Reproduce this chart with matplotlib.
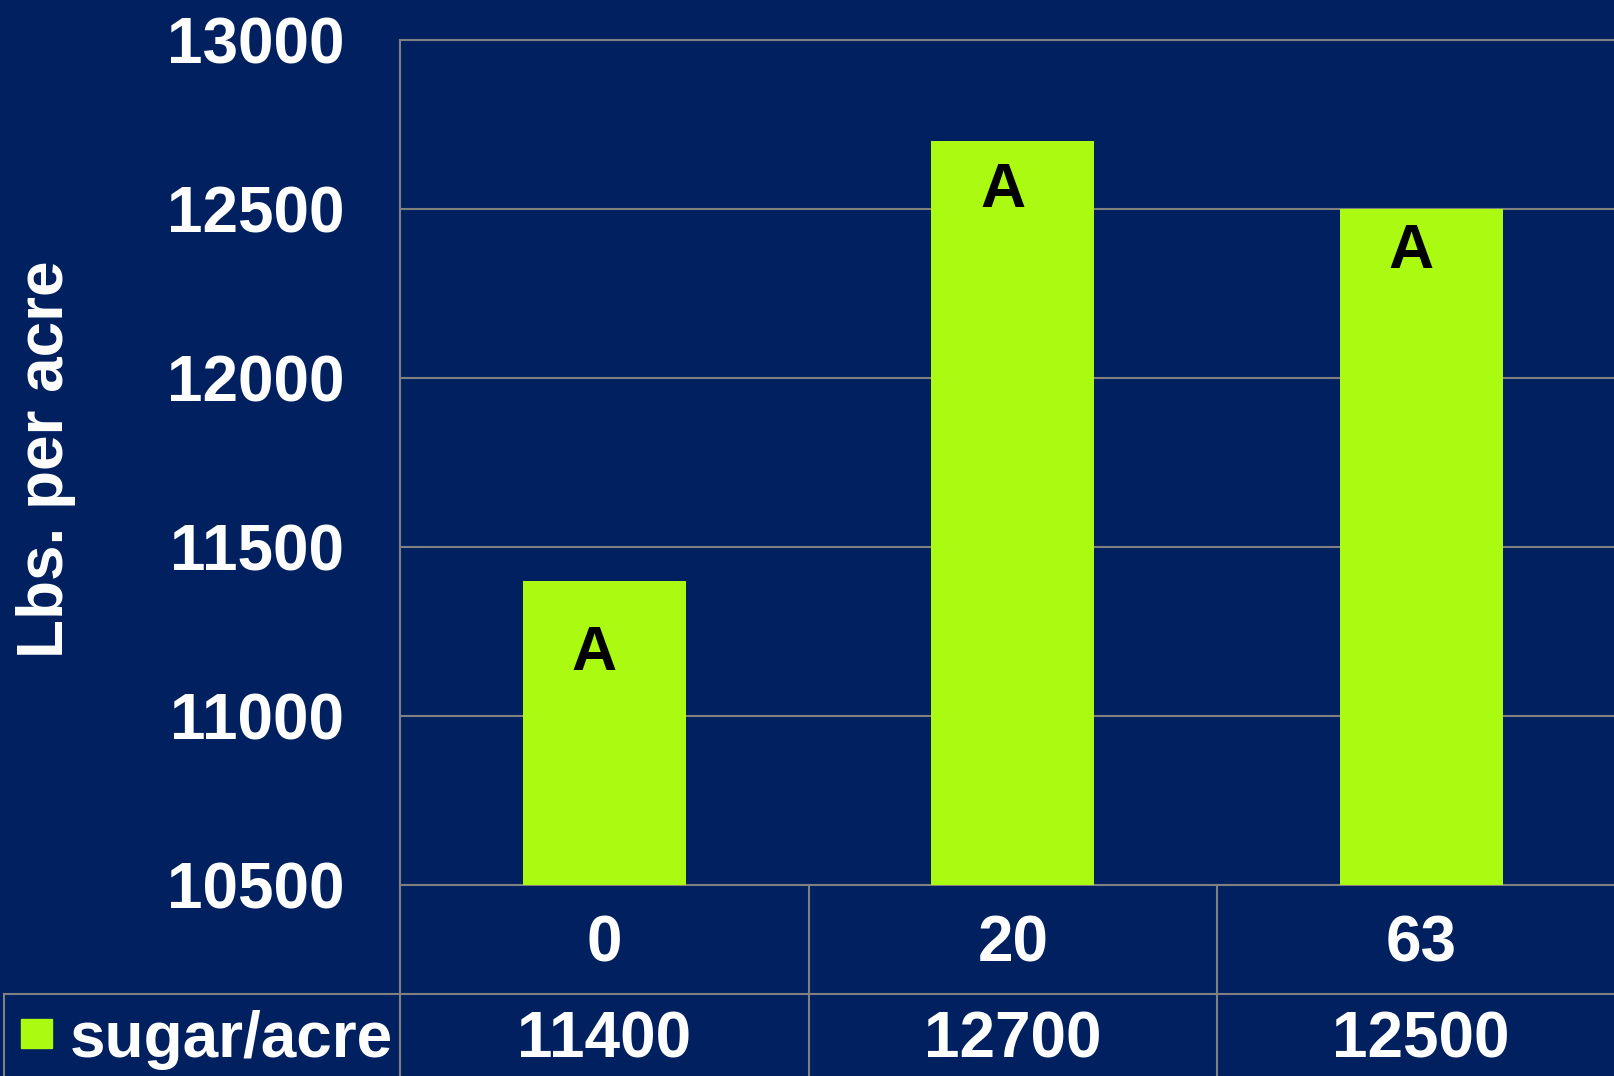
import numpy as np
import matplotlib
matplotlib.use('Agg')
import matplotlib.pyplot as plt
import matplotlib.transforms as mtransforms

# data
categories = ['0', '20', '63']
sugar_acre = [11400, 12700, 12500]
letters = ['A', 'A', 'A']
letter_y = [11185, 12555, 12375]
yticks = [10500, 11000, 11500, 12000, 12500, 13000]
series_name = 'sugar/acre'

navy = '#00205F'
green = '#AAFA12'
grey = '#808080'

plt.rcParams['font.family'] = ['Liberation Sans', 'DejaVu Sans']
plt.rcParams['font.weight'] = 'bold'

W, H = 1614, 1076
colw = 408.5  # one table column in pixels, plot runs a bit past the right edge
fig = plt.figure(figsize=(W / 100, H / 100), dpi=100, facecolor=navy)
ax = fig.add_axes([400 / W, (H - 885) / H, 3 * colw / W, 845 / H], facecolor=navy)

x = np.arange(len(categories))
ax.bar(x, sugar_acre, width=0.4, color=green, zorder=3)
for xi, yi, s in zip(x, letter_y, letters):
    ax.text(xi - 0.025, yi, s, ha='center', va='center', fontsize=45,
            fontweight='bold', color='black', zorder=4)

ax.set_xlim(-0.5, len(categories) - 0.5)
ax.set_ylim(yticks[0], yticks[-1])
ax.set_yticks(yticks)
ax.set_yticklabels([str(t) for t in yticks])
ax.set_xticks([])
ax.tick_params(axis='y', length=0, pad=40, labelsize=46, labelcolor='white')
ax.grid(axis='y', color=grey, linewidth=1.5, zorder=1)
ax.spines['right'].set_visible(False)
for side in ['left', 'top', 'bottom']:
    ax.spines[side].set_color(grey)
    ax.spines[side].set_linewidth(1.5)

fig.text(46 / W, 1 - 459 / H, 'Lbs. per acre', rotation=90, ha='center', va='center',
         fontsize=46, fontweight='bold', color='white')

# data table under the plot
tr = mtransforms.blended_transform_factory(ax.transData, ax.transAxes)
row_line = -109 / 845
bottom = -200 / 845
left_edge = -0.5 - 396 / colw
for xv in np.arange(-0.5, len(categories) + 0.5, 1.0):
    ax.plot([xv, xv], [0, bottom], transform=tr, color=grey, lw=1.5, clip_on=False)
ax.plot([left_edge, len(categories) - 0.5], [row_line, row_line], transform=tr,
        color=grey, lw=1.5, clip_on=False)
ax.plot([left_edge, left_edge], [row_line, bottom], transform=tr, color=grey,
        lw=1.5, clip_on=False)

for xi, c, v in zip(x, categories, sugar_acre):
    ax.text(xi, -59 / 845, c, transform=tr, ha='center', va='center', fontsize=46,
            fontweight='bold', color='white')
    ax.text(xi, -155 / 845, str(v), transform=tr, ha='center', va='center', fontsize=46,
            fontweight='bold', color='white')

ax.add_patch(plt.Rectangle((left_edge + 17 / colw, -163 / 845), 31 / colw, 29 / 845,
                           transform=tr, color=green, clip_on=False))
ax.text(left_edge + 66 / colw, -155 / 845, series_name, transform=tr, ha='left',
        va='center', fontsize=46, fontweight='bold', color='white')

fig.savefig('out.png', dpi=100, facecolor=navy)
